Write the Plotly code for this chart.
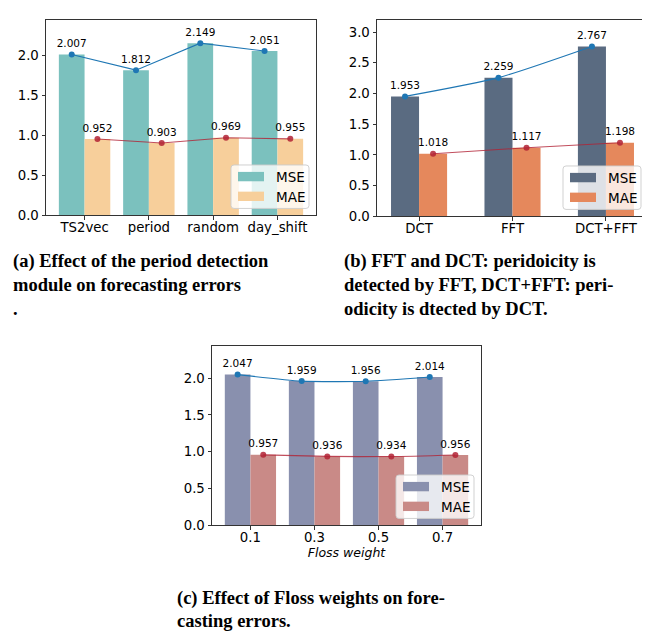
import plotly.graph_objects as go

W, H = 650, 631

# ---------------- data ----------------
a_categories = ["TS2vec", "period", "random", "day_shift"]
a_mse = [2.007, 1.812, 2.149, 2.051]
a_mae = [0.952, 0.903, 0.969, 0.955]

b_categories = ["DCT", "FFT", "DCT+FFT"]
b_mse = [1.953, 2.259, 2.767]
b_mae = [1.018, 1.117, 1.198]

c_categories = ["0.1", "0.3", "0.5", "0.7"]
c_mse = [2.047, 1.959, 1.956, 2.014]
c_mae = [0.957, 0.936, 0.934, 0.956]

y_ticks_ab = [0.0, 0.5, 1.0, 1.5, 2.0]
y_ticks_b = [0.0, 0.5, 1.0, 1.5, 2.0, 2.5, 3.0]

captions_a = ["(a) Effect of the period detection", "module on forecasting errors", "."]
captions_b = ["(b) FFT and DCT: peridoicity is", "detected by FFT, DCT+FFT: peri-", "odicity is dtected by DCT."]
captions_c = ["(c) Effect of Floss weights on fore-", "casting errors."]

# ---------------- layout helpers ----------------
def px_x(x):
    return x / W

def px_y(y):
    return 1 - y / H

panels = {
    # name: (left, top, right, bottom) in pixels
    "a": (38, 12, 308, 210),
    "b": (369, 12, 640, 211),
    "c": (204, 342, 473, 524),
}

fig = go.Figure()

TICK_FONT = dict(family="DejaVu Sans", size=13.3, color="black")
LBL_FONT = dict(family="DejaVu Sans", size=10.5, color="black")


def add_panel(idx, name, cats, mse, mae, width, ymax, yticks, mse_col, mae_col,
              shape="linear", xtitle=None):
    xa = "x" if idx == 1 else f"x{idx}"
    ya = "y" if idx == 1 else f"y{idx}"
    n = len(cats)
    pos = list(range(n))
    x_mse = [p - width / 2 for p in pos]
    x_mae = [p + width / 2 for p in pos]
    fig.add_trace(go.Bar(x=x_mse, y=mse, width=width, marker=dict(color=mse_col, line=dict(width=0)),
                         name="MSE", showlegend=False, xaxis=xa, yaxis=ya))
    fig.add_trace(go.Bar(x=x_mae, y=mae, width=width, marker=dict(color=mae_col, line=dict(width=0)),
                         name="MAE", showlegend=False, xaxis=xa, yaxis=ya))
    fig.add_trace(go.Scatter(x=x_mse, y=mse, mode="lines+markers+text",
                             line=dict(color="#1f77b4", width=1.1, shape=shape, smoothing=0.6),
                             marker=dict(color="#1f77b4", size=6),
                             text=[f"{v:.3f}" for v in mse], textposition="top center",
                             textfont=LBL_FONT, showlegend=False, cliponaxis=False,
                             xaxis=xa, yaxis=ya))
    fig.add_trace(go.Scatter(x=x_mae, y=mae, mode="lines+markers+text",
                             line=dict(color="rgba(178,34,52,0.8)", width=1.1, shape=shape, smoothing=0.6),
                             marker=dict(color="rgba(178,34,52,0.85)", size=6),
                             text=[f"{v:.3f}" for v in mae], textposition="top center",
                             textfont=LBL_FONT, showlegend=False, cliponaxis=False,
                             xaxis=xa, yaxis=ya))
    l, t, r, b = panels[name]
    xkey = "xaxis" if idx == 1 else f"xaxis{idx}"
    ykey = "yaxis" if idx == 1 else f"yaxis{idx}"
    side = 0.6 if width == 0.4 else 0.45
    xax = dict(domain=[px_x(l), px_x(r)], anchor=ya, range=[-side, n - 1 + side],
               tickvals=pos, ticktext=cats, tickfont=TICK_FONT, ticks="outside", ticklen=3.5,
               tickwidth=1, tickcolor="#333", showline=True, linecolor="#333", linewidth=1,
               mirror=True, showgrid=False, zeroline=False, fixedrange=True,
               ticklabelstandoff=-4)
    if xtitle:
        xax["title"] = dict(text=xtitle, font=dict(family="DejaVu Sans", size=12.5, color="black"),
                            standoff=0)
    yax = dict(domain=[px_y(b), px_y(t)], anchor=xa, range=[0, ymax], tickvals=yticks,
               ticktext=[f"{v:.1f}" for v in yticks], tickfont=TICK_FONT, ticks="outside",
               ticklen=3.5, tickwidth=1, tickcolor="#333", showline=True, linecolor="#333",
               linewidth=1, mirror=True, showgrid=False, zeroline=False, fixedrange=True)
    fig.update_layout(**{xkey: xax, ykey: yax})

    # legend box (lower right)
    bx1 = r - 7
    bx0 = bx1 - 78
    by1 = b - 7
    by0 = by1 - 44
    rr = 3
    path = (f"M {px_x(bx0+rr)},{px_y(by0)} L {px_x(bx1-rr)},{px_y(by0)} "
            f"Q {px_x(bx1)},{px_y(by0)} {px_x(bx1)},{px_y(by0+rr)} "
            f"L {px_x(bx1)},{px_y(by1-rr)} Q {px_x(bx1)},{px_y(by1)} {px_x(bx1-rr)},{px_y(by1)} "
            f"L {px_x(bx0+rr)},{px_y(by1)} Q {px_x(bx0)},{px_y(by1)} {px_x(bx0)},{px_y(by1-rr)} "
            f"L {px_x(bx0)},{px_y(by0+rr)} Q {px_x(bx0)},{px_y(by0)} {px_x(bx0+rr)},{px_y(by0)} Z")
    fig.add_shape(type="path", path=path, xref="paper", yref="paper",
                  fillcolor="rgba(255,255,255,0.8)", line=dict(color="rgba(204,204,204,0.9)", width=1),
                  layer="above")
    for k, (lab, col) in enumerate([("MSE", mse_col), ("MAE", mae_col)]):
        cy = by0 + 12 + k * 20
        fig.add_shape(type="rect", xref="paper", yref="paper",
                      x0=px_x(bx0 + 7), x1=px_x(bx0 + 33), y0=px_y(cy - 5), y1=px_y(cy + 4.5),
                      fillcolor=col, line=dict(width=0), layer="above")
        fig.add_annotation(x=px_x(bx0 + 43), y=px_y(cy), xref="paper", yref="paper",
                           text=lab, showarrow=False, xanchor="left", yanchor="middle",
                           font=dict(family="DejaVu Sans", size=13.5, color="black"))


add_panel(1, "a", a_categories, a_mse, a_mae, 0.4, 2.44, y_ticks_ab, "#7bc1be", "#f7cf9b")
add_panel(2, "b", b_categories, b_mse, b_mae, 0.3, 3.2, y_ticks_b, "#5a6b81", "#e5885c",
          shape="spline")
add_panel(3, "c", c_categories, c_mse, c_mae, 0.4, 2.44, y_ticks_ab, "#8990ae", "#c98a87",
          shape="spline", xtitle="<i>Floss weight</i>")

CAP_FONT = dict(family="Liberation Serif", size=18.5, color="black", weight="bold")


def add_caption(lines, x, y0, dy=24):
    for k, s in enumerate(lines):
        fig.add_annotation(x=px_x(x), y=px_y(y0 + k * dy), xref="paper", yref="paper",
                           text=s, showarrow=False, xanchor="left", align="left",
                           yanchor="middle", font=CAP_FONT, borderpad=0)


add_caption(captions_a, 4, 257)
add_caption(captions_b, 335, 257)
add_caption(captions_c, 168, 598, dy=22.5)

fig.update_layout(width=W, height=H, margin=dict(l=0, r=0, t=0, b=0),
                  paper_bgcolor="white", plot_bgcolor="white", barmode="overlay",
                  showlegend=False)

fig.write_html("out.html")
